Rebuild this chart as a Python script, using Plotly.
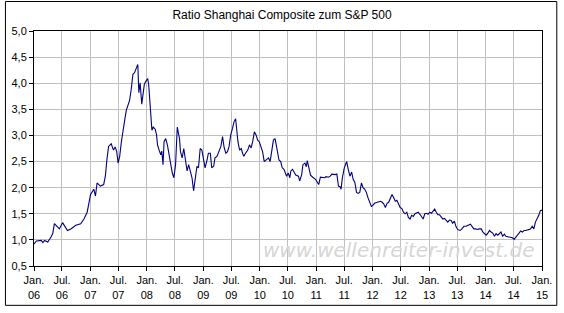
import pandas as pd
import plotly.graph_objects as go

# decimal years since Jan 2006
years = [0.000,0.042,0.129,0.157,0.187,0.244,0.304,0.332,0.361,0.391,0.419,0.449,0.506,0.536,0.593,0.653,0.740,0.827,0.885,0.942,
0.972,1.002,1.059,1.089,1.117,1.176,1.234,1.264,1.291,1.321,1.368,1.408,1.438,1.466,1.490,1.518,1.548,1.578,1.606,1.635,
1.665,1.693,1.723,1.752,1.780,1.810,1.839,1.857,1.880,1.909,1.937,1.955,1.984,2.014,2.031,2.054,2.072,2.089,2.112,2.147,
2.171,2.188,2.216,2.246,2.264,2.286,2.304,2.333,2.363,2.391,2.421,2.450,2.478,2.508,2.538,2.555,2.578,2.595,2.625,2.653,
2.682,2.712,2.740,2.770,2.799,2.827,2.857,2.887,2.914,2.944,2.974,3.002,3.031,3.066,3.089,3.124,3.148,3.183,3.206,3.241,
3.281,3.311,3.340,3.368,3.398,3.428,3.456,3.485,3.515,3.543,3.572,3.590,3.613,3.642,3.672,3.695,3.717,3.747,3.787,3.817,
3.846,3.874,3.904,3.934,3.962,3.991,4.021,4.049,4.079,4.113,4.154,4.183,4.213,4.241,4.271,4.288,4.311,4.340,4.370,4.398,
4.428,4.450,4.475,4.503,4.532,4.550,4.579,4.607,4.637,4.684,4.707,4.742,4.764,4.799,4.824,4.841,4.869,4.899,4.939,4.986,
5.016,5.044,5.073,5.113,5.148,5.173,5.218,5.248,5.278,5.335,5.365,5.393,5.422,5.440,5.463,5.497,5.522,5.539,5.567,5.597,
5.627,5.654,5.684,5.714,5.742,5.771,5.801,5.829,5.859,5.888,5.916,5.946,5.976,6.003,6.033,6.080,6.138,6.168,6.195,6.225,
6.255,6.283,6.312,6.342,6.370,6.400,6.429,6.457,6.487,6.517,6.545,6.574,6.604,6.632,6.661,6.691,6.719,6.749,6.778,6.806,
6.836,6.866,6.894,6.923,6.953,6.981,7.010,7.040,7.068,7.098,7.127,7.155,7.185,7.215,7.243,7.272,7.302,7.330,7.359,7.389,
7.417,7.447,7.477,7.505,7.546,7.574,7.616,7.656,7.691,7.731,7.766,7.791,7.826,7.853,7.883,7.923,7.953,7.983,8.011,8.040,
8.070,8.098,8.127,8.157,8.185,8.215,8.244,8.272,8.302,8.332,8.360,8.389,8.419,8.447,8.476,8.506,8.534,8.564,8.593,8.621,
8.651,8.681,8.709,8.738,8.768,8.796,8.825,8.855,8.883,8.913,8.942,8.970,9.000]

ratio = [0.92,0.98,0.99,0.95,0.99,0.96,1.06,1.12,1.31,1.28,1.25,1.21,1.33,1.28,1.18,1.21,1.28,1.31,1.40,1.53,
1.68,1.87,1.97,1.84,2.09,2.03,2.06,2.22,2.53,2.79,2.84,2.72,2.78,2.69,2.47,2.60,2.88,3.13,3.29,3.48,
3.57,3.67,3.89,4.17,4.20,4.30,4.36,3.82,4.01,3.60,3.89,3.98,4.04,4.09,3.98,3.64,3.26,3.10,3.16,3.12,
3.01,2.82,2.72,2.63,2.70,2.44,2.88,2.94,2.82,2.63,2.44,2.28,2.19,2.44,3.16,3.04,2.94,2.69,2.57,2.75,
2.53,2.32,2.44,2.28,2.19,1.94,2.22,2.41,2.38,2.75,2.72,2.57,2.38,2.53,2.66,2.66,2.38,2.41,2.57,2.60,
2.69,2.79,2.98,2.77,2.66,2.69,2.79,3.01,3.13,3.26,3.32,3.13,2.88,2.72,2.75,2.66,2.60,2.66,2.72,2.82,
2.76,2.88,3.07,3.01,2.91,2.88,2.79,2.69,2.50,2.53,2.57,2.50,2.75,2.91,2.94,2.85,2.66,2.53,2.50,2.38,
2.35,2.28,2.22,2.28,2.19,2.32,2.35,2.30,2.24,2.22,2.13,2.25,2.44,2.47,2.40,2.52,2.35,2.24,2.20,2.16,
2.11,2.06,2.20,2.20,2.19,2.21,2.20,2.22,2.26,2.25,2.26,2.03,2.02,1.97,2.19,2.38,2.44,2.50,2.35,2.22,
2.30,2.16,2.10,1.91,1.89,1.91,2.09,2.00,1.97,1.91,1.81,1.72,1.64,1.66,1.70,1.72,1.74,1.72,1.69,1.62,
1.70,1.72,1.81,1.87,1.81,1.74,1.76,1.69,1.62,1.60,1.53,1.50,1.53,1.43,1.40,1.47,1.45,1.50,1.51,1.53,
1.49,1.45,1.40,1.50,1.51,1.49,1.53,1.51,1.56,1.59,1.53,1.48,1.48,1.43,1.40,1.41,1.38,1.34,1.38,1.37,
1.32,1.36,1.25,1.20,1.18,1.20,1.26,1.26,1.28,1.30,1.25,1.21,1.21,1.20,1.21,1.21,1.15,1.12,1.09,1.13,
1.18,1.15,1.13,1.07,1.12,1.09,1.13,1.15,1.07,1.11,1.07,1.06,1.06,1.05,1.04,1.01,1.06,1.09,1.13,1.17,
1.15,1.18,1.18,1.19,1.21,1.21,1.26,1.21,1.34,1.40,1.47,1.56,1.57]

tick_dates = [f"{y}-{m:02d}-01" for y in range(2006, 2016) for m in (1, 7)][:-1]
tick_text = [("Jan." if m == 1 else "Jul.") + f"<br>{y % 100:02d}" for y in range(2006, 2016) for m in (1, 7)][:-1]
y_ticks = [0.5, 1.0, 1.5, 2.0, 2.5, 3.0, 3.5, 4.0, 4.5, 5.0]

start = pd.Timestamp("2006-01-01")
dates = [start + pd.to_timedelta(t * 365.25, unit="D") for t in years]

fig = go.Figure()
fig.add_trace(go.Scatter(x=dates, y=ratio, mode="lines",
                         line=dict(color="#000080", width=1.1), showlegend=False))

font = dict(family="Liberation Sans, Arial, sans-serif", size=11, color="black")
fig.update_layout(
    width=564, height=313,
    margin=dict(l=30, r=18, t=31, b=43),
    paper_bgcolor="white", plot_bgcolor="white",
    separators=", ",
    font=font,
    title=dict(text="Ratio Shanghai Composite zum S&P 500", x=0.5, xanchor="center",
               y=1 - 15 / 313, yanchor="middle", font=dict(size=12, color="black")),
    xaxis=dict(type="date", range=["2006-01-01", "2015-01-01"],
               tickvals=tick_dates, ticktext=tick_text, tickangle=0,
               showgrid=True, gridcolor="#c0c0c0", gridwidth=1,
               showline=True, linecolor="black", linewidth=1, mirror=True,
               ticks="outside", ticklen=4, tickcolor="black", zeroline=False),
    yaxis=dict(range=[0.5, 5.0], tickvals=y_ticks, tickformat=".1f",
               showgrid=True, gridcolor="#c0c0c0", gridwidth=1,
               showline=True, linecolor="black", linewidth=1, mirror=True,
               ticks="outside", ticklen=4, tickcolor="black", zeroline=False),
    annotations=[dict(text="<i>www.wellenreiter-invest.de</i>", xref="paper", yref="paper",
                      x=0.717, y=0.068, xanchor="center", yanchor="middle", showarrow=False,
                      font=dict(family="DejaVu Sans", size=20, color="#d6d6d6"))],
    shapes=[dict(type="rect", xref="paper", yref="paper",
                 x0=-0.0562, x1=1.0291, y0=-0.1674, y1=1.1255,
                 line=dict(color="black", width=1), fillcolor="rgba(0,0,0,0)", layer="below")],
)

fig.write_html("out.html")
